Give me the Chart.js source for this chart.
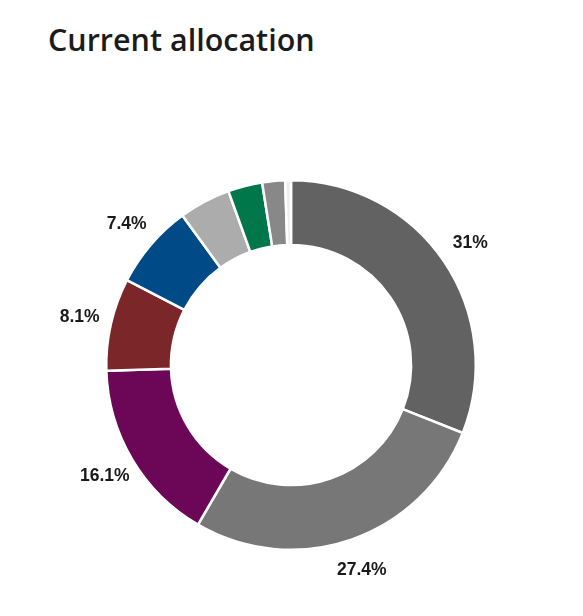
<!DOCTYPE html>
<html>
<head>
<meta charset="utf-8">
<script src="https://cdn.jsdelivr.net/npm/chart.js@4"></script>
<style>
  html, body { margin: 0; padding: 0; background: #ffffff; }
  #wrap { position: relative; width: 583px; height: 616px; }
  #title { position: absolute; left: 48px; top: 18px; font-family: "Open Sans", sans-serif; font-weight: 600; font-size: 30.5px; color: #1b1b1b; white-space: nowrap; }
  canvas { position: absolute; left: 0; top: 0; }
</style>
</head>
<body>
<div id="wrap">
  <div id="title">Current allocation</div>
  <canvas id="c" width="583" height="616"></canvas>
</div>
<script>
const categories = ["Segment A", "Segment B", "Segment C", "Segment D", "Segment E", "Segment F", "Segment G", "Segment H", "Segment I"];
const values = [31, 27.4, 16.1, 8.1, 7.4, 4.5, 3.0, 2.0, 0.5];
const colors = ["#626262", "#777777", "#6c0657", "#7b2628", "#004b87", "#acacac", "#00774a", "#888888", "#eeeeee"];
const labelThreshold = 5;

const outsideLabels = {
  id: 'outsideLabels',
  afterDatasetsDraw(chart) {
    const ctx = chart.ctx;
    const meta = chart.getDatasetMeta(0);
    ctx.save();
    ctx.font = 'bold 17.5px "Liberation Sans", Arial, sans-serif';
    ctx.fillStyle = '#1a1a1a';
    ctx.textAlign = 'center';
    ctx.textBaseline = 'middle';
    meta.data.forEach((arc, i) => {
      const v = values[i];
      if (v < labelThreshold) return;
      const p = arc.getProps(['x', 'y', 'startAngle', 'endAngle', 'outerRadius'], true);
      const mid = (p.startAngle + p.endAngle) / 2;
      const r = p.outerRadius + 32;
      ctx.fillText(v + '%', p.x + Math.cos(mid) * r, p.y + Math.sin(mid) * r);
    });
    ctx.restore();
  }
};

new Chart(document.getElementById('c'), {
  type: 'doughnut',
  data: {
    labels: categories,
    datasets: [{
      data: values,
      backgroundColor: colors,
      borderColor: '#ffffff',
      borderWidth: 2.5,
      hoverOffset: 0
    }]
  },
  options: {
    responsive: false,
    animation: false,
    cutout: '65%',
    layout: { padding: { left: 105, right: 106, top: 179, bottom: 65 } },
    plugins: {
      legend: { display: false },
      tooltip: { enabled: false },
      title: { display: false }
    }
  },
  plugins: [outsideLabels]
});
</script>
</body>
</html>
